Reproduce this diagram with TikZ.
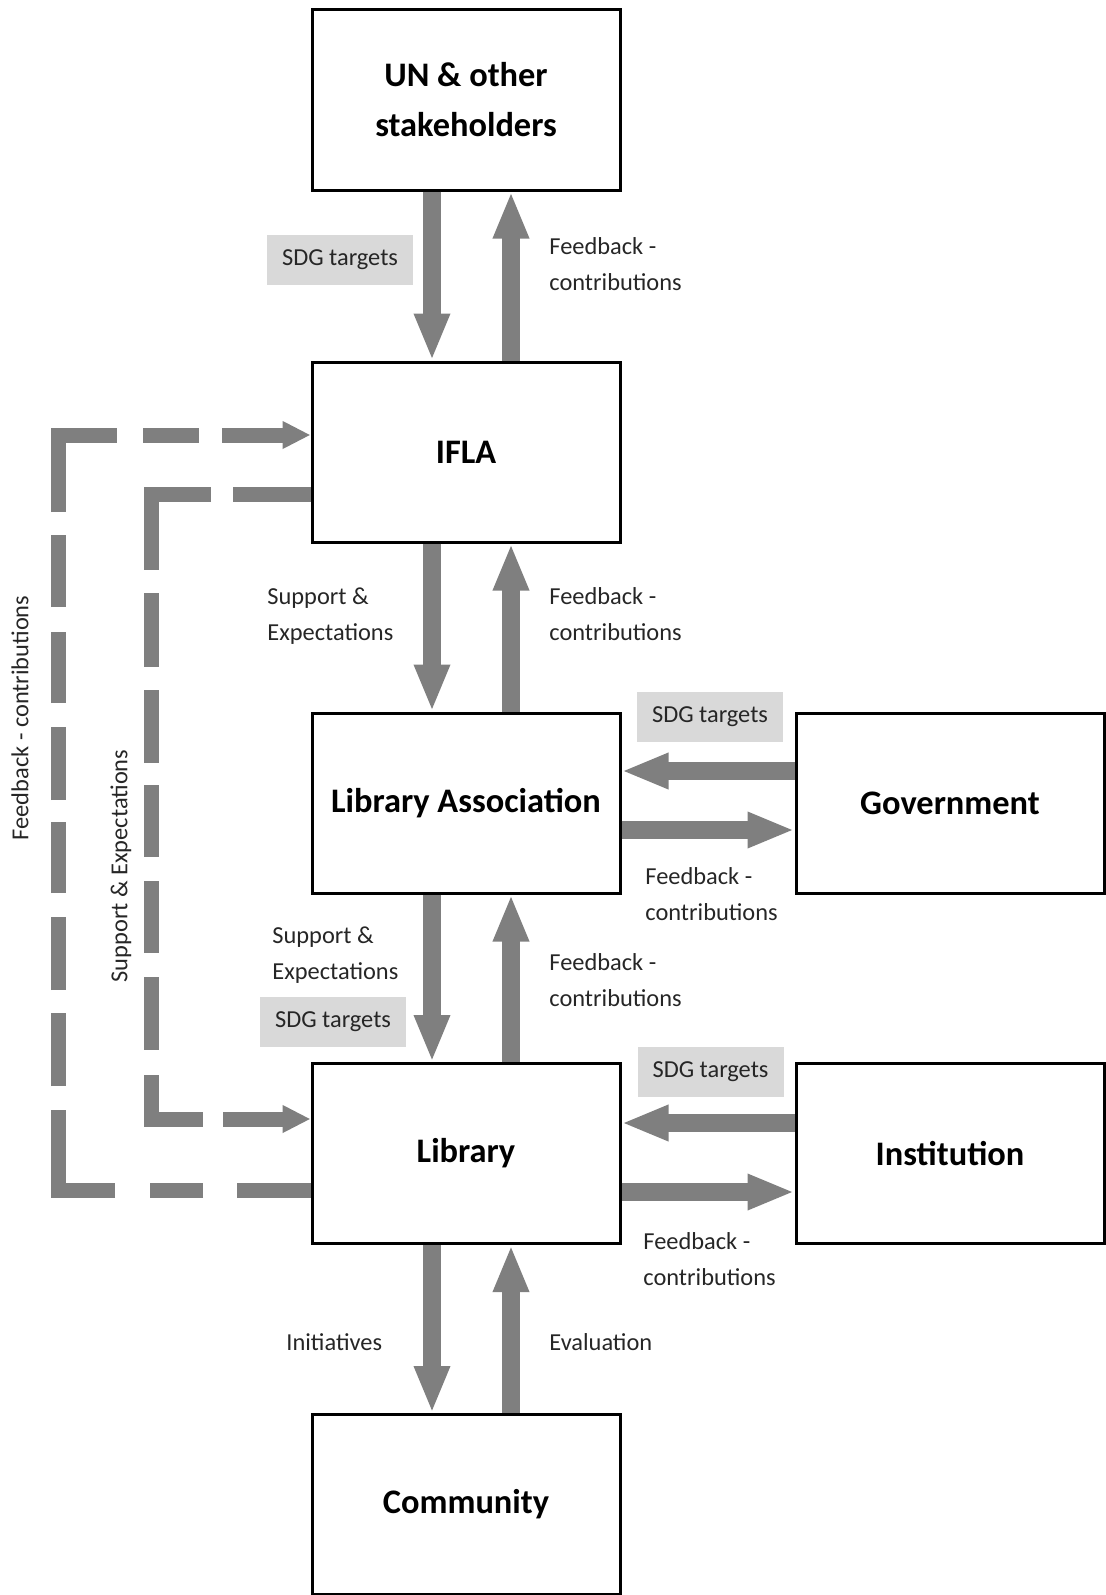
\documentclass[tikz,border=0pt]{standalone}
\usepackage{fontspec}
\setmainfont{Carlito}
\usetikzlibrary{arrows.meta,positioning}

\definecolor{arrowgray}{HTML}{7F7F7F}
\definecolor{tagfill}{HTML}{D9D9D9}
\definecolor{labeltext}{HTML}{262626}

\tikzset{
	box/.style={draw, line width=1.5pt, minimum width=154pt, minimum height=90pt,
		align=center, font=\fontsize{17.2}{25}\selectfont\bfseries},
	flow/.style={draw=arrowgray, line width=9pt,
		-{Triangle[width=16.5pt,length=23.5pt]}},
	dashflow/.style={draw=arrowgray, line width=7.5pt,
		-{Triangle[width=13pt,length=14pt]}},
	tag/.style={fill=tagfill, minimum width=73pt, minimum height=25pt, inner sep=0pt,
		font=\fontsize{12.2}{18}\selectfont, text=labeltext},
	note/.style={align=left, inner sep=0pt,
		font=\fontsize{12.2}{18}\selectfont, text=labeltext},
}

\begin{document}
\begin{tikzpicture}[x=0.5pt,y=-0.5pt]
	\useasboundingbox (0,0) rectangle (1105,1595);

	\node[box] (UN) at (466,100) {UN \& other\\stakeholders};
	\node[box] (IFLA) at (466,452) {IFLA};
	\node[box] (LA) at (466,803) {Library Association};
	\node[box] (LIB) at (466,1153.5) {Library};
	\node[box] (COM) at (466,1504.5) {Community};
	\node[box] (GOV) at (950,803) {Government};
	\node[box] (INST) at (950,1153.5) {Institution};

	\draw[flow] ([xshift=-17pt]UN.south) -- ([xshift=-17pt]IFLA.north);
	\draw[flow] ([xshift=22.5pt]IFLA.north) -- ([xshift=22.5pt]UN.south);
	\draw[flow] ([xshift=-17pt]IFLA.south) -- ([xshift=-17pt]LA.north);
	\draw[flow] ([xshift=22.5pt]LA.north) -- ([xshift=22.5pt]IFLA.south);
	\draw[flow] ([xshift=-17pt]LA.south) -- ([xshift=-17pt]LIB.north);
	\draw[flow] ([xshift=22.5pt]LIB.north) -- ([xshift=22.5pt]LA.south);
	\draw[flow] ([xshift=-17pt]LIB.south) -- ([xshift=-17pt]COM.north);
	\draw[flow] ([xshift=22.5pt]COM.north) -- ([xshift=22.5pt]LIB.south);

	\draw[flow] ([yshift=16pt]GOV.west) -- ([yshift=16pt]LA.east);
	\draw[flow] ([yshift=-13.5pt]LA.east) -- ([yshift=-13.5pt]GOV.west);
	\draw[flow] ([yshift=15.25pt]INST.west) -- ([yshift=15.25pt]LIB.east);
	\draw[flow] ([yshift=-19.25pt]LIB.east) -- ([yshift=-19.25pt]INST.west);

	% dashes laid out as in the source figure
	\draw[dashflow, dash pattern=on 36.75pt off 17pt on 26.5pt off 17.5pt on 68.5pt off 12pt
		on 36.5pt off 11.5pt on 36.5pt off 12pt on 35.5pt off 11pt on 36.5pt off 12pt
		on 35.5pt off 12.5pt on 36pt off 11.5pt on 68pt off 13pt on 28pt off 11.5pt on 40pt off 1pt]
		([yshift=-18.25pt]LIB.west) -- ++(-252.5,0) |- ([yshift=8.5pt]IFLA.west);
	\draw[dashflow, dash pattern=on 38.75pt off 11pt on 67.75pt off 11.5pt on 37pt off 11.5pt
		on 36.5pt off 11pt on 36pt off 12pt on 36pt off 12pt on 36.5pt off 12.5pt
		on 47.75pt off 10pt on 40pt off 1pt]
		([yshift=-21pt]IFLA.west) -- ++(-159,0) |- ([yshift=17.25pt]LIB.west);

	\node[note, rotate=90] (fbside) at (20,718) {Feedback - contributions};
	\node[note, rotate=90] (seside) at (121,866) {Support \& Expectations};

	\node[tag] (tagUN) at (340,260) {SDG targets};
	\node[tag] (tagGOV) at (710,716.5) {SDG targets};
	\node[tag] (tagLA) at (333,1022) {SDG targets};
	\node[tag] (tagINST) at (710.5,1071.5) {SDG targets};

	\node[note, anchor=base west] (fbUN) at (549,290) {Feedback -\\contributions};
	\node[note, anchor=base west] (seIFLA) at (267,640) {Support \&\\Expectations};
	\node[note, anchor=base west] (fbIFLA) at (549,640) {Feedback -\\contributions};
	\node[note, anchor=base west] (fbGOV) at (645,920) {Feedback -\\contributions};
	\node[note, anchor=base west] (seLA) at (272,979) {Support \&\\Expectations};
	\node[note, anchor=base west] (fbLA) at (549,1006) {Feedback -\\contributions};
	\node[note, anchor=base west] (fbINST) at (643,1285) {Feedback -\\contributions};
	\node[note, anchor=base west] (initCOM) at (286,1350) {Initiatives};
	\node[note, anchor=base west] (evalCOM) at (549,1350) {Evaluation};
\end{tikzpicture}
\end{document}
